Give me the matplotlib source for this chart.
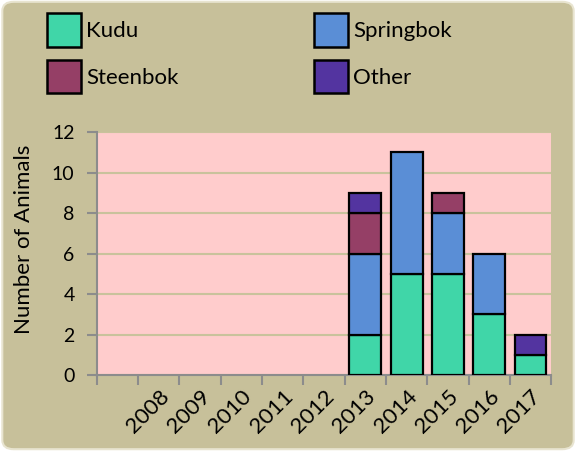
import numpy as np
import matplotlib.pyplot as plt
from matplotlib.patches import FancyBboxPatch, Patch

plt.rcParams['font.family'] = ['Lato', 'DejaVu Sans']

years = ['', '2008', '2009', '2010', '2011', '2012', '2013', '2014', '2015', '2016', '2017']
kudu = [0, 0, 0, 0, 0, 0, 2, 5, 5, 3, 1]
springbok = [0, 0, 0, 0, 0, 0, 4, 6, 3, 3, 0]
steenbok = [0, 0, 0, 0, 0, 0, 2, 0, 1, 0, 0]
other = [0, 0, 0, 0, 0, 0, 1, 0, 0, 0, 1]

series = [('Kudu', kudu, '#40D6A8'),
          ('Springbok', springbok, '#5A8ED6'),
          ('Steenbok', steenbok, '#953F66'),
          ('Other', other, '#5334A0')]

bg = '#C7C09A'
fig = plt.figure(figsize=(5.76, 4.51), dpi=100, facecolor='white')
fig.patches.append(FancyBboxPatch((0.004, 0.004), 0.992, 0.992,
                                  boxstyle='round,pad=0,rounding_size=0.02',
                                  transform=fig.transFigure, facecolor=bg,
                                  edgecolor='#E8E4D0', linewidth=1.5, zorder=-10))

ax = fig.add_axes([0.168, 0.1685, 0.789, 0.5385])
ax.set_facecolor('#FFCCCC')

x = np.arange(len(years))
bottom = np.zeros(len(years))
handles = {}
for name, vals, col in series:
    vals = np.array(vals, dtype=float)
    b = ax.bar(x, vals, 0.77, bottom=bottom, color=col, edgecolor='black',
               linewidth=1.6, zorder=3)
    # hide the empty segments
    for r, v in zip(b, vals):
        if v == 0:
            r.set_visible(False)
    handles[name] = Patch(facecolor=col, edgecolor='black', linewidth=1.8)
    bottom += vals

ax.set_xlim(-0.5, len(years) - 0.5)
ax.set_ylim(0, 12)
ax.set_yticks(range(0, 13, 2))
ax.set_xticks(np.arange(-0.5, len(years), 1.0))
ax.set_xticklabels([])
ax.set_xticks(x, minor=True)
ax.set_xticklabels(years, minor=True, rotation=45, ha='right', va='top',
                   rotation_mode='anchor', fontsize=16)
ax.tick_params(axis='x', which='minor', length=0, pad=8)
ax.tick_params(axis='x', which='major', length=7, width=1.5, color='#8C8C8C', direction='out')
ax.tick_params(axis='y', length=7, width=1.5, color='#8C8C8C', direction='out', labelsize=14, pad=9)
ax.yaxis.grid(True, color='#C9C29C', linewidth=1.5, zorder=0)
ax.set_axisbelow(True)
for s in ['top', 'right']:
    ax.spines[s].set_visible(False)
for s in ['left', 'bottom']:
    ax.spines[s].set_color('#8C8C8C')
    ax.spines[s].set_linewidth(1.5)
ax.set_ylabel('Number of Animals', fontsize=16)
ax.yaxis.set_label_coords(-0.139, 0.56)

# legend is filled column by column, so order gives Kudu/Springbok on top row
order = ['Kudu', 'Steenbok', 'Springbok', 'Other']
fig.legend(handles=[handles[n] for n in order], labels=order, ncol=2,
           loc='upper left', bbox_to_anchor=(0.0816, 0.971), frameon=False,
           borderpad=0, borderaxespad=0,
           fontsize=16, handlelength=1.53, handleheight=1.95,
           handletextpad=0.23, columnspacing=6.1, labelspacing=0.59)

fig.savefig('out.png', dpi=100, facecolor=fig.get_facecolor())
